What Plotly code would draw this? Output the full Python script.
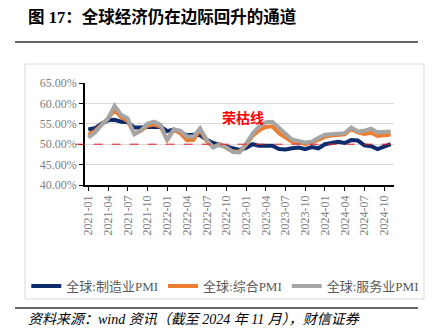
import plotly.graph_objects as go

months = [f"{y}-{m:02d}" for y in (2021, 2022, 2023, 2024) for m in range(1, 13)][:47]

manufacturing = [53.6, 53.9, 55.0, 55.9, 56.0, 55.5, 55.4, 54.1, 54.1, 54.3, 54.2, 54.3,
                 53.2, 53.6, 52.9, 52.2, 52.3, 52.2, 51.1, 50.3, 49.8, 49.4, 48.8, 48.6,
                 49.1, 50.0, 49.6, 49.6, 49.6, 48.8, 48.7, 49.0, 49.2, 48.8, 49.3, 49.0,
                 50.0, 50.3, 50.6, 50.3, 51.0, 50.9, 49.7, 49.5, 48.8, 49.4, 50.0]
composite = [52.3, 53.2, 54.8, 56.3, 58.4, 56.6, 55.7, 52.6, 53.3, 54.5, 54.8, 54.3,
             51.1, 53.5, 52.7, 51.0, 51.1, 53.5, 50.8, 49.3, 50.0, 49.0, 48.2, 48.2,
             49.8, 52.1, 53.4, 54.2, 54.4, 52.7, 51.6, 50.6, 50.5, 50.0, 50.4, 51.0,
             51.8, 52.1, 52.3, 52.4, 53.7, 52.9, 52.5, 52.8, 52.0, 52.3, 52.4]
services = [51.6, 52.8, 54.7, 56.3, 59.4, 57.2, 56.3, 52.4, 53.4, 55.0, 55.5, 54.7,
            51.0, 53.6, 53.3, 51.9, 51.9, 53.9, 51.1, 49.2, 50.0, 49.2, 48.1, 48.0,
            50.1, 52.6, 54.4, 55.4, 55.5, 54.0, 52.7, 51.1, 50.8, 50.4, 50.6, 51.6,
            52.3, 52.4, 52.4, 52.7, 54.1, 53.1, 53.3, 53.8, 52.9, 53.1, 53.1]

series_names = ["全球:制造业PMI", "全球:综合PMI", "全球:服务业PMI"]
series_colors = ["#0C2C6E", "#ED7D31", "#A5A5A5"]
threshold = 50
tick_labels = months[::3]

title_text = "图 17：全球经济仍在边际回升的通道"
source_text = "资料来源：wind 资讯（截至 2024 年 11 月），财信证券"
threshold_label = "荣枯线"

serif = "Liberation Serif, Noto Sans CJK SC, serif"

fig = go.Figure()
for name, vals, col in zip(series_names, [manufacturing, composite, services], series_colors):
    fig.add_trace(go.Scatter(x=months, y=vals, mode="lines", name=name,
                             line=dict(color=col, width=4)))

fig.add_shape(type="line", xref="paper", yref="y", x0=-0.03, x1=1.0, y0=threshold, y1=threshold,
              line=dict(color="#E02020", width=1, dash="dash"), layer="above")

# frame
fig.add_shape(type="rect", xref="paper", yref="paper", x0=-0.194, x1=1.097, y0=-1.118, y1=1.186,
              line=dict(color="#D9D9D9", width=1), layer="below")
# title underline and footer line
fig.add_shape(type="line", xref="paper", yref="paper", x0=-0.2265, x1=1.0777, y0=1.402, y1=1.402,
              line=dict(color="#333333", width=1.5))
fig.add_shape(type="line", xref="paper", yref="paper", x0=-0.2265, x1=1.0777, y0=-1.206, y1=-1.206,
              line=dict(color="#333333", width=1.5))

fig.add_annotation(xref="paper", yref="paper", x=-0.19, y=1.647, xanchor="left", yanchor="middle",
                   text=f"<b>{title_text}</b>", showarrow=False,
                   font=dict(family=serif, size=16.5, color="#000000"))
fig.add_annotation(xref="paper", yref="paper", x=-0.19, y=-1.3235, xanchor="left", yanchor="middle",
                   text=f"<i>{source_text}</i>", showarrow=False,
                   font=dict(family=serif, size=14, color="#000000"))
fig.add_annotation(x=months[23], y=56.4, xshift=3, text=f"<b>{threshold_label}</b>", showarrow=False,
                   font=dict(family=serif, size=14, color="#FF0000"))

fig.update_layout(
    width=433, height=328,
    margin=dict(l=85, r=39, t=83, b=143),
    paper_bgcolor="white", plot_bgcolor="white",
    showlegend=True,
    legend=dict(orientation="h", x=-0.19, xanchor="left", y=-0.99, yanchor="middle",
                font=dict(family=serif, size=13, color="#595959"),
                itemwidth=30, tracegroupgap=0, bgcolor="rgba(0,0,0,0)"),
    xaxis=dict(type="category", range=[-0.5, 46.5], tickmode="array", tickvals=tick_labels,
               ticktext=tick_labels, tickangle=-90, showgrid=False,
               showline=True, linecolor="#000000", linewidth=1.5,
               ticks="outside", ticklen=4, tickcolor="#000000",
               tickfont=dict(family=serif, size=12, color="#808080")),
    yaxis=dict(range=[40, 65], dtick=5, tickformat=".2f", ticksuffix="%",
               showgrid=True, gridcolor="#D9D9D9", gridwidth=1, zeroline=False,
               showline=True, linecolor="#000000", linewidth=1.5,
               ticks="outside", ticklen=4, tickcolor="#000000",
               tickfont=dict(family=serif, size=12, color="#808080")),
)

fig.write_html("out.html")
